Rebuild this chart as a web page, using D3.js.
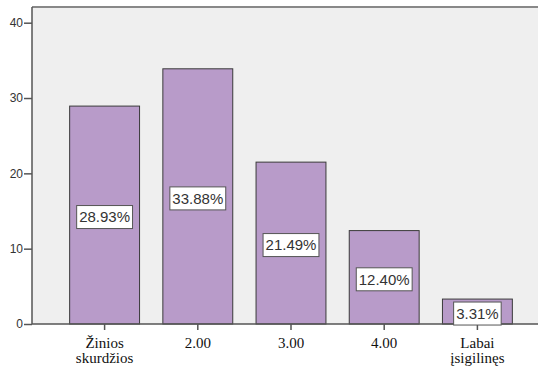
<!DOCTYPE html>
<html>
<head>
<meta charset="utf-8">
<script src="https://cdn.jsdelivr.net/npm/d3@7"></script>
<style>
  body { margin: 0; background: #fff; }
  svg { display: block; }
</style>
</head>
<body>
<svg id="chart" width="538" height="369"></svg>
<script>
// chart values (percent per category)
var categories = ["Žinios skurdžios", "2.00", "3.00", "4.00", "Labai įsigilinęs"];
var categoryLines = [["Žinios", "skurdžios"], ["2.00"], ["3.00"], ["4.00"], ["Labai", "įsigilinęs"]];
var percents = [28.93, 33.88, 21.49, 12.40, 3.31];
var yTicks = [0, 10, 20, 30, 40];

var width = 538, height = 369;
var plot = {left: 32, top: 7, right: 538, bottom: 324};

var svg = d3.select("#chart");

var x = d3.scaleBand()
  .domain(categories)
  .range([58, 524])
  .paddingInner(0.25)
  .paddingOuter(0.125);

var y = d3.scaleLinear()
  .domain([0, 40])
  .range([plot.bottom, 22.7]);

// plot background
svg.append("rect")
  .attr("x", plot.left)
  .attr("y", plot.top)
  .attr("width", plot.right - plot.left)
  .attr("height", plot.bottom - plot.top)
  .attr("fill", "#efefef");

svg.append("line")
  .attr("x1", plot.left).attr("x2", plot.right)
  .attr("y1", plot.top).attr("y2", plot.top)
  .attr("stroke", "#888").attr("stroke-width", 2);

// bars
svg.selectAll("rect.bar")
  .data(percents)
  .enter().append("rect")
  .attr("class", "bar")
  .attr("x", function(d, i) { return x(categories[i]); })
  .attr("y", function(d) { return y(d); })
  .attr("width", x.bandwidth())
  .attr("height", function(d) { return y(0) - y(d); })
  .attr("fill", "#b89bc9")
  .attr("stroke", "#3a3a3a")
  .attr("stroke-width", 1);

// y axis
var yAxis = svg.append("g")
  .attr("transform", "translate(" + plot.left + ",0)")
  .call(d3.axisLeft(y).tickValues(yTicks).tickSize(8).tickPadding(1));
yAxis.select(".domain").attr("d", "M0," + plot.top + "V" + plot.bottom)
  .attr("stroke", "#555").attr("stroke-width", 1.5);
yAxis.selectAll(".tick line").attr("stroke", "#555").attr("stroke-width", 1.5);
yAxis.selectAll(".tick text")
  .attr("font-family", "Arial, 'Liberation Sans', sans-serif")
  .attr("font-size", 12)
  .attr("fill", "#333");

// x axis
var xAxis = svg.append("g")
  .attr("transform", "translate(0," + plot.bottom + ")")
  .call(d3.axisBottom(x).tickSize(6).tickFormat(""));
xAxis.select(".domain").attr("d", "M" + plot.left + ",0H" + plot.right)
  .attr("stroke", "#555").attr("stroke-width", 1.5);
xAxis.selectAll(".tick line").attr("stroke", "#555").attr("stroke-width", 1.5);
xAxis.selectAll(".tick").each(function(d, i) {
  var t = d3.select(this).append("text")
    .attr("font-family", "'Times New Roman', 'Liberation Serif', serif")
    .attr("font-size", 15)
    .attr("fill", "#111")
    .attr("text-anchor", "middle");
  categoryLines[i].forEach(function(line, j) {
    t.append("tspan").attr("x", 0).attr("y", 23.5 + j * 15.5).text(line);
  });
});

// value labels
var labels = svg.selectAll("g.lbl")
  .data(percents)
  .enter().append("g")
  .attr("class", "lbl")
  .attr("transform", function(d, i) {
    var cx = x(categories[i]) + x.bandwidth() / 2;
    var cy = (y(d) + y(0)) / 2 + 2;
    return "translate(" + cx + "," + cy + ")";
  });

labels.append("text")
  .attr("text-anchor", "middle")
  .attr("dy", "0.36em")
  .attr("font-family", "Arial, 'Liberation Sans', sans-serif")
  .attr("font-size", 15)
  .attr("fill", "#333")
  .text(function(d) { return d.toFixed(2) + "%"; });

labels.each(function() {
  var g = d3.select(this);
  var bb = g.select("text").node().getBBox();
  g.insert("rect", "text")
    .attr("x", bb.x - 2.5)
    .attr("y", -11.5)
    .attr("width", bb.width + 5)
    .attr("height", 23)
    .attr("fill", "#fff")
    .attr("stroke", "#555")
    .attr("stroke-width", 1);
});
</script>
</body>
</html>
